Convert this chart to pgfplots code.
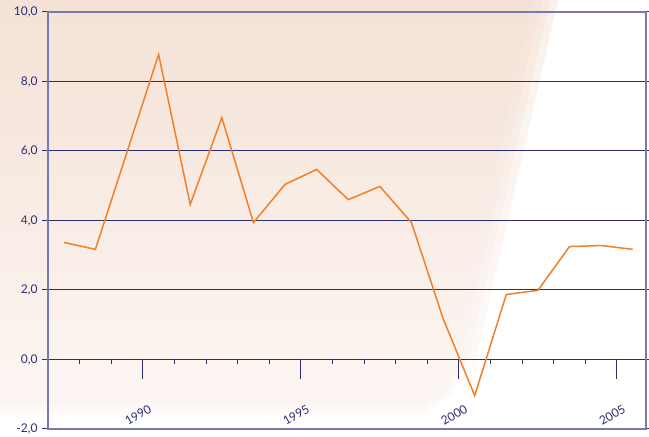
\documentclass[border=0pt]{standalone}
\usepackage{pgfplots}
\pgfplotsset{compat=1.18}
\usepackage{fontspec}
\setmainfont{Lato}
\definecolor{navy}{RGB}{45,45,115}
\definecolor{frame}{RGB}{120,120,180}
\definecolor{lineor}{RGB}{242,128,40}
\definecolor{peachtop}{RGB}{244,224,211}
\definecolor{peachbot}{RGB}{252,246,242}
\begin{document}
\begin{tikzpicture}
% background tint (image coords -> X=x-48, Y=429-y)
\fill[white] (-48pt,-8pt) rectangle (601pt,429pt);
\shade[top color=peachtop, bottom color=peachbot, fill opacity=0.45] (-48pt,429pt) -- (510pt,429pt) -- (428pt,69pt) -- (400pt,30pt) -- (-48pt,30pt) -- cycle;
\shade[top color=peachtop, bottom color=peachbot, fill opacity=0.45] (-48pt,429pt) -- (502pt,429pt) -- (420pt,69pt) -- (392pt,25pt) -- (-48pt,25pt) -- cycle;
\shade[top color=peachtop, bottom color=peachbot, fill opacity=0.45] (-48pt,429pt) -- (494pt,429pt) -- (412pt,69pt) -- (384pt,20pt) -- (-48pt,20pt) -- cycle;
\shade[top color=peachtop, bottom color=peachbot, fill opacity=0.45] (-48pt,429pt) -- (486pt,429pt) -- (404pt,69pt) -- (376pt,15pt) -- (-48pt,15pt) -- cycle;
\begin{axis}[
  at={(0pt,0pt)}, anchor=south west,
  scale only axis, width=598pt, height=417pt,
  xmin=1987, xmax=2005.92, ymin=-2, ymax=10,
  axis line style={frame, line width=1.4pt},
  xtick=\empty,
  ytick={-2,0,2,4,6,8,10},
  yticklabels={-2{,}0,0{,}0,2{,}0,4{,}0,6{,}0,8{,}0,10{,}0},
  ytick style={navy, line width=1pt},
  tick align=outside, major tick length=6pt,
  ymajorgrids, major grid style={navy, line width=1pt},
  yticklabel style={font=\fontsize{12}{14}\selectfont, text=navy, xshift=-1pt},
  /pgf/number format/assume math mode=true,
  clip=false,
]
\addplot[lineor, line width=1.5pt] coordinates {
(1987.5,3.37) (1988.5,3.17) (1989.5,5.97) (1990.5,8.78) (1991.5,4.46)
(1992.5,6.96) (1993.5,3.94) (1994.5,5.04) (1995.5,5.47) (1996.5,4.60)
(1997.5,4.98) (1998.5,3.94) (1999.5,1.18) (2000.5,-1.04) (2001.5,1.87)
(2002.5,1.99) (2003.5,3.25) (2004.5,3.28) (2005.5,3.17)
};
\draw[navy, line width=1pt] (axis cs:1988,0) -- ++(0pt,-5pt);
\draw[navy, line width=1pt] (axis cs:1989,0) -- ++(0pt,-5pt);
\draw[navy, line width=1pt] (axis cs:1990,0) -- ++(0pt,-20pt);
\draw[navy, line width=1pt] (axis cs:1991,0) -- ++(0pt,-5pt);
\draw[navy, line width=1pt] (axis cs:1992,0) -- ++(0pt,-5pt);
\draw[navy, line width=1pt] (axis cs:1993,0) -- ++(0pt,-5pt);
\draw[navy, line width=1pt] (axis cs:1994,0) -- ++(0pt,-5pt);
\draw[navy, line width=1pt] (axis cs:1995,0) -- ++(0pt,-20pt);
\draw[navy, line width=1pt] (axis cs:1996,0) -- ++(0pt,-5pt);
\draw[navy, line width=1pt] (axis cs:1997,0) -- ++(0pt,-5pt);
\draw[navy, line width=1pt] (axis cs:1998,0) -- ++(0pt,-5pt);
\draw[navy, line width=1pt] (axis cs:1999,0) -- ++(0pt,-5pt);
\draw[navy, line width=1pt] (axis cs:2000,0) -- ++(0pt,-20pt);
\draw[navy, line width=1pt] (axis cs:2001,0) -- ++(0pt,-5pt);
\draw[navy, line width=1pt] (axis cs:2002,0) -- ++(0pt,-5pt);
\draw[navy, line width=1pt] (axis cs:2003,0) -- ++(0pt,-5pt);
\draw[navy, line width=1pt] (axis cs:2004,0) -- ++(0pt,-5pt);
\draw[navy, line width=1pt] (axis cs:2005,0) -- ++(0pt,-20pt);
\node[rotate=30, text=navy, font=\fontsize{12}{14}\selectfont, inner sep=0pt] at (axis cs:1989.85,-1.6) {1990};
\node[rotate=30, text=navy, font=\fontsize{12}{14}\selectfont, inner sep=0pt] at (axis cs:1994.85,-1.6) {1995};
\node[rotate=30, text=navy, font=\fontsize{12}{14}\selectfont, inner sep=0pt] at (axis cs:1999.85,-1.6) {2000};
\node[rotate=30, text=navy, font=\fontsize{12}{14}\selectfont, inner sep=0pt] at (axis cs:2004.85,-1.6) {2005};
\end{axis}
\pgfresetboundingbox
\path (-48pt,-8pt) rectangle (601pt,429pt);
\end{tikzpicture}
\end{document}
